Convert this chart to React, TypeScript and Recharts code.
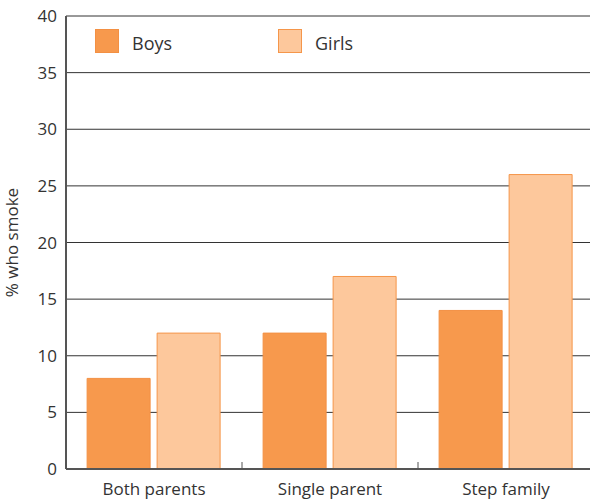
import { Bar, BarChart, CartesianGrid, XAxis, YAxis } from "recharts";

const categories = ["Both parents", "Single parent", "Step family"];
const boys = [8, 12, 14];
const girls = [12, 17, 26];
const yTicks = [0, 5, 10, 15, 20, 25, 30, 35, 40];

const data = categories.map((name, i) => ({ name, boys: boys[i], girls: girls[i] }));

const FONT = "'Open Sans', 'Noto Sans', sans-serif";
const TEXT = "#333333";
const AXIS = "#555555";
const TICK_GAP = 13;

const series = [
  { key: "boys", label: "Boys", fill: "#f7994d", stroke: "#f39043" },
  { key: "girls", label: "Girls", fill: "#fdc89c", stroke: "#f5964a" },
];

function LegendBox() {
  return (
    <div
      style={{
        position: "absolute",
        top: 29,
        left: 95,
        display: "flex",
        fontFamily: FONT,
        fontSize: 18,
        color: TEXT,
      }}
    >
      {series.map((s, i) => (
        <div
          key={s.key}
          style={{ display: "flex", alignItems: "center", width: i === 0 ? 183 : 120 }}
        >
          <span
            style={{
              width: 22,
              height: 22,
              background: s.fill,
              border: `1px solid ${s.stroke}`,
              marginRight: 13,
            }}
          />
          <span style={{ position: "relative", top: 2 }}>{s.label}</span>
        </div>
      ))}
    </div>
  );
}

// category label plus the small upward ticks on the band edges
function CategoryTick(props: any) {
  const { x, y, payload, index } = props;
  const half = payload.offset || 0;
  const axisY = y - TICK_GAP;
  return (
    <g>
      {index === 0 && (
        <line x1={x - half} x2={x - half} y1={axisY} y2={axisY - 7} stroke={AXIS} />
      )}
      <line x1={x + half} x2={x + half} y1={axisY} y2={axisY - 7} stroke={AXIS} />
      <text
        x={x}
        y={y}
        dy="0.75em"
        textAnchor="middle"
        fill={TEXT}
        fontSize={17}
        fontFamily={FONT}
      >
        {payload.value}
      </text>
    </g>
  );
}

export default function App() {
  return (
    <div
      style={{
        position: "absolute",
        top: 0,
        left: 0,
        width: 590,
        height: 500,
        overflow: "hidden",
      }}
    >
      <BarChart
        width={600}
        height={500}
        data={data}
        margin={{ top: 16, right: 6, left: 0, bottom: 0 }}
        barCategoryGap="12%"
        barGap={7}
      >
        <CartesianGrid vertical={false} stroke="#333333" strokeWidth={1} />
        <XAxis
          dataKey="name"
          axisLine={{ stroke: AXIS, strokeWidth: 2 }}
          tickLine={false}
          tickSize={0}
          tickMargin={TICK_GAP}
          height={31}
          tick={<CategoryTick />}
        />
        <YAxis
          domain={[0, 40]}
          ticks={yTicks}
          width={66}
          axisLine={{ stroke: AXIS, strokeWidth: 2 }}
          tickLine={false}
          tickSize={0}
          tickMargin={9}
          tick={{ fill: TEXT, fontSize: 17, fontFamily: FONT }}
          label={{
            value: "% who smoke",
            angle: -90,
            position: "insideLeft",
            offset: 12,
            style: { textAnchor: "middle", fill: TEXT, fontSize: 17, fontFamily: FONT },
          }}
        />
        {series.map((s) => (
          <Bar
            key={s.key}
            dataKey={s.key}
            name={s.label}
            fill={s.fill}
            stroke={s.stroke}
            strokeWidth={1}
            isAnimationActive={false}
          />
        ))}
      </BarChart>
      <LegendBox />
    </div>
  );
}
